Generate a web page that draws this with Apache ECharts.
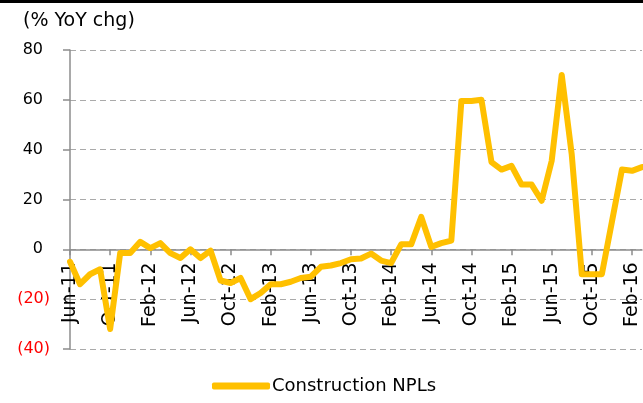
<!DOCTYPE html>
<html>
<head>
<meta charset="utf-8">
<title>Construction NPLs</title>
<script src="https://cdn.jsdelivr.net/npm/echarts@6/dist/echarts.min.js"></script>
<style>
  html, body { margin: 0; padding: 0; background: #fff; }
  #chart { width: 643px; height: 403px; }
</style>
</head>
<body>
<div id="chart"></div>
<script>
// months Jun-11 .. Mar-16
var months = [
  'Jun-11','Jul-11','Aug-11','Sep-11','Oct-11','Nov-11','Dec-11',
  'Jan-12','Feb-12','Mar-12','Apr-12','May-12','Jun-12','Jul-12','Aug-12','Sep-12','Oct-12','Nov-12','Dec-12',
  'Jan-13','Feb-13','Mar-13','Apr-13','May-13','Jun-13','Jul-13','Aug-13','Sep-13','Oct-13','Nov-13','Dec-13',
  'Jan-14','Feb-14','Mar-14','Apr-14','May-14','Jun-14','Jul-14','Aug-14','Sep-14','Oct-14','Nov-14','Dec-14',
  'Jan-15','Feb-15','Mar-15','Apr-15','May-15','Jun-15','Jul-15','Aug-15','Sep-15','Oct-15','Nov-15','Dec-15',
  'Jan-16','Feb-16','Mar-16'
];

// % YoY change
var constructionNPLs = [
  -5, -14, -10, -8, -32, -1.5, -1.5,
  3, 0.5, 2.5, -1.5, -3.5, 0, -3.5, -0.5, -12.5, -13.5, -11.5, -20,
  -17.5, -14, -14, -13, -11.5, -11, -7, -6.5, -5.5, -4, -3.7, -1.7,
  -4.5, -5.5, 2, 2, 13, 1, 2.5, 3.5, 59.5, 59.5, 60, 35,
  32, 33.5, 26, 26, 19.5, 35.5, 70, 38, -10, -10, -10, 11,
  32, 31.5, 33
];

var yMin = -40, yMax = 80;
var gridTop = 50, gridBottom = 54, chartH = 403;

var chart = echarts.init(document.getElementById('chart'));

// x axis sits on the zero line: shift it up from the grid bottom
var plotH = chartH - gridTop - gridBottom;
var zeroOffset = plotH * (0 - yMin) / (yMax - yMin);

var option = {
  animation: false,
  textStyle: { fontFamily: 'DejaVu Sans' },
  title: {
    text: '(% YoY chg)',
    left: 18,
    top: 7,
    textStyle: { fontSize: 19, fontWeight: 'normal', color: '#000' }
  },
  graphic: [{
    type: 'rect',
    shape: { x: 0, y: 0, width: 643, height: 3 },
    style: { fill: '#000' }
  }],
  legend: {
    left: 207,
    top: 372,
    icon: 'roundRect',
    itemWidth: 58,
    itemHeight: 7,
    textStyle: { fontSize: 18, color: '#000', padding: [0, 0, 0, -3] },
    data: ['Construction NPLs']
  },
  grid: { left: 70, right: 1, top: gridTop, bottom: gridBottom, containLabel: false, outerBoundsMode: 'none' },
  xAxis: {
    type: 'category',
    data: months,
    boundaryGap: false,
    offset: -zeroOffset,
    axisLine: { onZero: false, lineStyle: { color: '#8c8c8c', width: 1.5 } },
    axisTick: { interval: 3, length: 6, lineStyle: { color: '#8c8c8c', width: 1.5 } },
    axisLabel: { interval: 3, rotate: 90, margin: 13, fontSize: 19, color: '#000' },
    splitLine: { show: false }
  },
  yAxis: {
    type: 'value',
    min: yMin,
    max: yMax,
    interval: 20,
    axisLine: { show: true, lineStyle: { color: '#8c8c8c', width: 1.5 } },
    axisTick: { show: true, length: 7, lineStyle: { color: '#8c8c8c', width: 1.5 } },
    axisLabel: {
      margin: 20,
      fontSize: 16,
      formatter: function (v) {
        return v < 0 ? '{n|(' + Math.abs(v) + ')}' : '{p|' + v + '}';
      },
      rich: {
        n: { color: '#ff0000', fontSize: 16 },
        p: { color: '#000', fontSize: 16, padding: [0, 7, 0, 0] }
      }
    },
    splitLine: { show: true, lineStyle: { color: '#aaaaaa', type: [6, 4], width: 1 } }
  },
  series: [{
    name: 'Construction NPLs',
    type: 'line',
    data: constructionNPLs,
    symbol: 'none',
    color: '#FFC000',
    lineStyle: { width: 6, color: '#FFC000', join: 'round', cap: 'round' }
  }]
};

chart.setOption(option);
</script>
</body>
</html>
